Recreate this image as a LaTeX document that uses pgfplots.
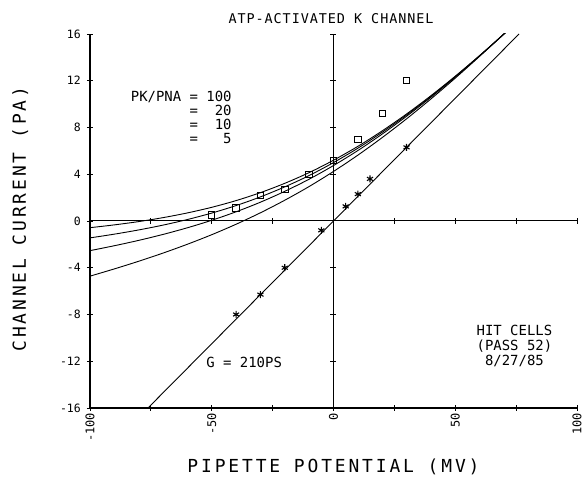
\documentclass[border=0pt]{standalone}
\usepackage{fontspec}
\setmainfont{DejaVu Sans Mono}
\usepackage{pgfplots}
\pgfplotsset{compat=1.18}
\newcommand{\fs}[1]{\fontsize{#1}{#1}\selectfont}
\begin{document}
\begin{tikzpicture}
\begin{axis}[
  scale only axis, width=487bp, height=374bp,
  xmin=-100, xmax=100, ymin=-16, ymax=16,
  axis lines=left, axis line style={-, line width=1.1bp},
  xtick={-100,-75,...,100}, xticklabels={-100,,-50,,0,,50,,100},
  ytick={-16,-12,...,16}, yticklabels={-16,-12,-8,-4,0,4,8,12,16},
  tick align=center, major tick length=6bp,
  tick style={black, line width=0.8bp},
  xticklabel style={rotate=90, anchor=east, font=\fs{12}, inner sep=2bp},
  yticklabel style={anchor=east, font=\fs{11.5}, inner sep=2bp, xshift=-4bp},
  clip mode=individual,
  every axis plot/.append style={black, line width=0.9bp},
]
\addplot[smooth, no marks] coordinates {(-100,-0.573) (-90,-0.333) (-80,-0.051) (-70,0.287) (-60,0.690) (-50,1.171) (-40,1.745) (-30,2.426) (-20,3.224) (-10,4.140) (0,5.199) (10,6.385) (20,7.710) (30,9.154) (40,10.717) (50,12.386) (60,14.15) (70,15.99) (80,17.90)};
\addplot[smooth, no marks] coordinates {(-100,-1.446) (-90,-1.126) (-80,-0.766) (-70,-0.352) (-60,0.126) (-50,0.677) (-40,1.319) (-30,2.063) (-20,2.920) (-10,3.889) (0,4.997) (10,6.226) (20,7.589) (30,9.067) (40,10.659) (50,12.351) (60,14.14) (70,16.0) (80,17.92)};
\addplot[smooth, no marks] coordinates {(-100,-2.537) (-90,-2.117) (-80,-1.659) (-70,-1.150) (-60,-0.580) (-50,0.061) (-40,0.787) (-30,1.609) (-20,2.539) (-10,3.576) (0,4.745) (10,6.027) (20,7.439) (30,8.958) (40,10.585) (50,12.309) (60,14.12) (70,16.0) (80,17.94)};
\addplot[smooth, no marks] coordinates {(-100,-4.720) (-90,-4.100) (-80,-3.445) (-70,-2.745) (-60,-1.990) (-50,-1.173) (-40,-0.278) (-30,0.702) (-20,1.778) (-10,2.950) (0,4.239) (10,5.631) (20,7.137) (30,8.739) (40,10.439) (50,12.223) (60,14.09) (70,16.01) (80,17.99)};
% G = 210 pS line
\addplot[no marks] coordinates {(-76.19,-16) (76.19,16)};
% stars
\addplot[only marks, mark=asterisk, mark size=3.5bp, line width=1.1bp] coordinates {(-40,-8.0) (-30,-6.3) (-20,-4.0) (-5,-0.8) (5,1.25) (10,2.3) (15,3.6) (30,6.3)};
% squares
\addplot[only marks, mark=square, mark size=3.2bp, line width=0.9bp] coordinates {(-50,0.5) (-40,1.1) (-30,2.2) (-20,2.7) (-10,4.0) (0,5.2) (10,7.0) (20,9.2) (30,12.0)};

\node[font=\fs{13.5}\addfontfeatures{LetterSpace=7}] at (rel axis cs:0.495,1.040) {ATP-ACTIVATED K CHANNEL};
\node[font=\fs{18}\addfontfeatures{LetterSpace=16}] at (rel axis cs:0.50,-0.158) {PIPETTE POTENTIAL (MV)};
\node[font=\fs{18}\addfontfeatures{LetterSpace=16}, rotate=90] at (rel axis cs:-0.143,0.505) {CHANNEL CURRENT (PA)};
\node[font=\fs{14}, anchor=north west, inner sep=0pt, align=left] at (axis cs:-83.3,11.1)
  {\begin{tabular}{@{}l@{}}PK/PNA = 100\\[-0.5bp]\phantom{PK/PNA} = \phantom{1}20\\[-0.5bp]\phantom{PK/PNA} = \phantom{1}10\\[-0.5bp]\phantom{PK/PNA} = \phantom{10}5\end{tabular}};
\node[font=\fs{14}] at (axis cs:-36.7,-12.1) {G = 210PS};
\node[font=\fs{14}, align=center] at (axis cs:74.3,-10.7) {HIT CELLS\\[1bp](PASS 52)\\[1bp]8/27/85};

\coordinate (bl) at (rel axis cs:-0.1848,-0.2059);
\coordinate (tr) at (rel axis cs:1.0144,1.0909);
\end{axis}
\begin{axis}[
  scale only axis, width=487bp, height=374bp,
  xmin=-100, xmax=100, ymin=-16, ymax=16,
  axis lines=middle, axis line style={-, line width=1bp},
  xtick={-100,-75,...,100}, ytick={-16,-12,...,16},
  xticklabels={}, yticklabels={},
  tick align=center, major tick length=6bp,
  tick style={black, line width=0.8bp},
]
\end{axis}
\pgfresetboundingbox
\path[use as bounding box] (bl) rectangle (tr);
\end{tikzpicture}
\end{document}
